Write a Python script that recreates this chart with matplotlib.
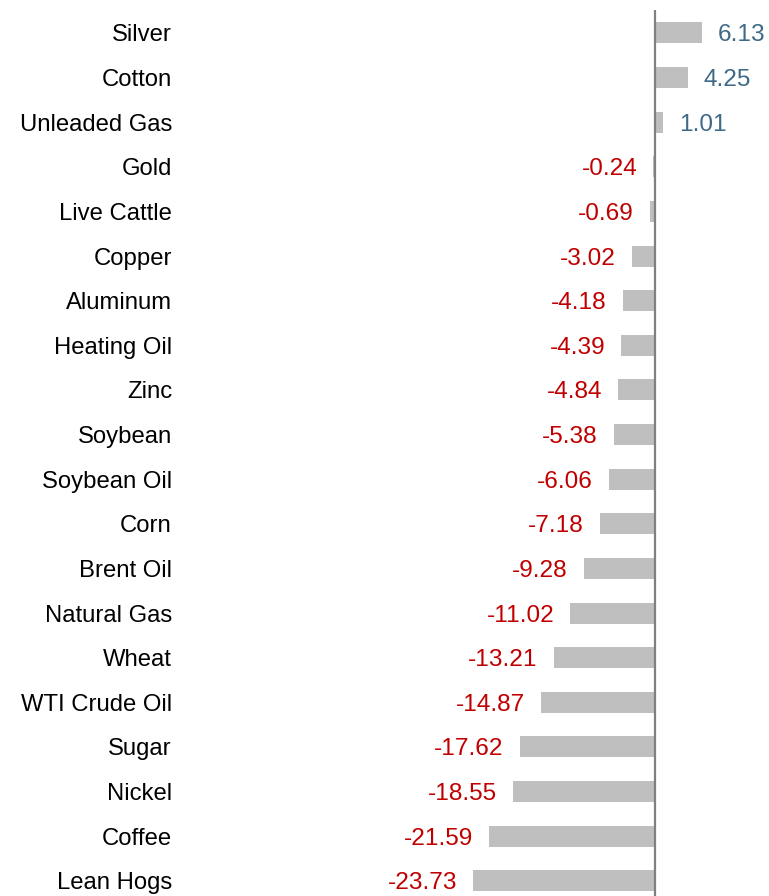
import matplotlib
matplotlib.use("Agg")
import matplotlib.pyplot as plt

categories = ["Silver", "Cotton", "Unleaded Gas", "Gold", "Live Cattle", "Copper",
              "Aluminum", "Heating Oil", "Zinc", "Soybean", "Soybean Oil", "Corn",
              "Brent Oil", "Natural Gas", "Wheat", "WTI Crude Oil", "Sugar", "Nickel",
              "Coffee", "Lean Hogs"]
values = [6.13, 4.25, 1.01, -0.24, -0.69, -3.02, -4.18, -4.39, -4.84, -5.38, -6.06,
          -7.18, -9.28, -11.02, -13.21, -14.87, -17.62, -18.55, -21.59, -23.73]

plt.rcParams['font.family'] = ['Liberation Sans', 'DejaVu Sans']

W, H = 769, 896
fig = plt.figure(figsize=(W / 100, H / 100), dpi=100)
ax_left = 180 / W
ax = fig.add_axes([ax_left, 0, 1 - ax_left, 1 - 10 / H])

scale = 7.67  # px per unit
zero_px = 655
ax.set_xlim((180 - zero_px) / scale, (W - zero_px) / scale)
ax.set_ylim(19.34, -0.515)

pos = list(range(len(categories)))
ax.barh(pos, values, height=0.47, color="#BFBFBF", zorder=2)
ax.axvline(0, color="#808080", linewidth=1.6, zorder=3)

gap = 16 / scale
for i, v in enumerate(values):
    if v >= 0:
        ax.text(v + gap, i, f"{v:.2f}", ha="left", va="center_baseline", fontsize=17.6, color="#3E6A87")
    else:
        ax.text(v - gap, i, f"{v:.2f}", ha="right", va="center_baseline", fontsize=17.6, color="#C00000")

ax.set_yticks(pos)
ax.set_yticklabels(categories, fontsize=17.2, color="black", va="center_baseline")
ax.tick_params(axis="y", length=0, pad=5.8)
ax.set_xticks([])
for s in ax.spines.values():
    s.set_visible(False)

fig.savefig("out.png", dpi=100)
